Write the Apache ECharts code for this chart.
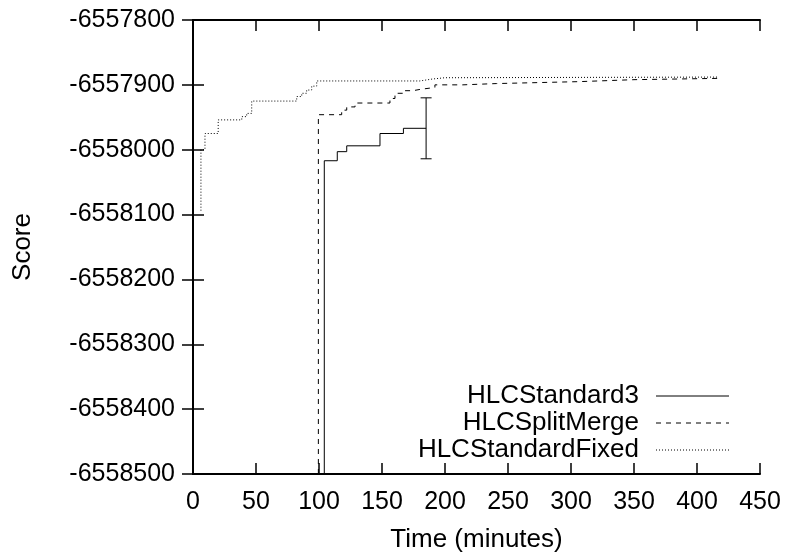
<!DOCTYPE html>
<html>
<head>
<meta charset="utf-8">
<script src="https://cdn.jsdelivr.net/npm/echarts@6/dist/echarts.min.js"></script>
<style>
  html, body { margin: 0; padding: 0; background: #fff; }
  #chart { width: 789px; height: 558px; }
</style>
</head>
<body>
<div id="chart"></div>
<script>
// time in minutes / score
const std3T = [104.2, 104.2, 114.5, 122, 148.4, 167, 185]
const std3V = [-6558500, -6558017, -6558003, -6557994, -6557975, -6557967, -6557967]

const splitT = [99.5, 99.5, 118, 122, 128.6, 156.3, 160.3, 166.7, 174.6, 180.2, 192, 214, 241, 307, 350, 417]
const splitV = [-6558500, -6557946, -6557939, -6557934, -6557928, -6557921, -6557913, -6557909, -6557907, -6557904, -6557900, -6557898, -6557895, -6557892, -6557890, -6557888]

const fixedT = [6.3, 6.3, 9.5, 20, 38.7, 42.6, 46.6, 82.3, 86.3, 90.2, 94.2, 98.2, 180, 190, 200, 417]
const fixedV = [-6558094, -6558000, -6557975, -6557954, -6557949, -6557944, -6557925, -6557918, -6557913, -6557908, -6557902, -6557894, -6557891, -6557889, -6557888, -6557888]

// error bar at the end of HLCStandard3
const errT = [185]
const errLow = [-6558014]
const errHigh = [-6557920]

const seriesNames = ['HLCStandard3', 'HLCSplitMerge', 'HLCStandardFixed']
const dashes = [null, [5, 5], [1, 2]]

const font = 'Liberation Sans, Arial, sans-serif'
const tickFs = 25
const textFs = 26

function pairs(xs, ys) {
  return xs.map((x, i) => [x, ys[i]])
}

const chart = echarts.init(document.getElementById('chart'))

const axisCommon = {
  type: 'value',
  axisLine: { show: true, lineStyle: { color: '#000', width: 2 } },
  axisTick: { show: true, inside: true, length: 11, lineStyle: { color: '#000', width: 1.5 } },
  splitLine: { show: false }
}

// legend drawn the gnuplot way: text right-aligned, sample to its right
const legendRows = [396, 423, 450]
const legendGraphics = []
seriesNames.forEach((name, i) => {
  legendGraphics.push({
    type: 'text',
    x: 639, y: legendRows[i],
    style: { text: name, font: textFs + 'px ' + font, fill: '#000', textAlign: 'right', textVerticalAlign: 'middle' }
  })
  legendGraphics.push({
    type: 'line',
    shape: { x1: 656, y1: legendRows[i], x2: 729, y2: legendRows[i] },
    style: { stroke: '#000', lineWidth: 1, lineDash: dashes[i] }
  })
})

const option = {
  animation: false,
  backgroundColor: '#fff',
  grid: { left: 193, top: 20, right: 29, bottom: 84, containLabel: false },
  xAxis: [
    Object.assign({}, axisCommon, {
      min: 0, max: 450, interval: 50,
      name: 'Time (minutes)', nameLocation: 'middle', nameGap: 53,
      nameTextStyle: { color: '#000', fontSize: textFs, fontFamily: font },
      axisLabel: { color: '#000', fontSize: tickFs, fontFamily: font, margin: 16 }
    }),
    Object.assign({}, axisCommon, {
      position: 'top', min: 0, max: 450, interval: 50,
      axisLabel: { show: false }
    })
  ],
  yAxis: [
    Object.assign({}, axisCommon, {
      min: -6558500, max: -6557800, interval: 100,
      name: 'Score', nameLocation: 'middle', nameGap: 157, nameRotate: 90,
      nameTextStyle: { color: '#000', fontSize: textFs, fontFamily: font },
      axisLabel: { color: '#000', fontSize: tickFs, fontFamily: font, margin: 18, formatter: v => String(v) }
    }),
    Object.assign({}, axisCommon, {
      position: 'right', min: -6558500, max: -6557800, interval: 100,
      axisLabel: { show: false }
    })
  ],
  graphic: legendGraphics,
  series: [
    {
      name: seriesNames[0], type: 'line', step: 'end', showSymbol: false, symbol: 'none',
      data: pairs(std3T, std3V),
      lineStyle: { color: '#000', width: 1 }
    },
    {
      name: seriesNames[1], type: 'line', step: 'end', showSymbol: false, symbol: 'none',
      data: pairs(splitT, splitV),
      lineStyle: { color: '#000', width: 1, type: dashes[1] }
    },
    {
      name: seriesNames[2], type: 'line', step: 'end', showSymbol: false, symbol: 'none',
      data: pairs(fixedT, fixedV),
      lineStyle: { color: '#000', width: 1, type: dashes[2] }
    },
    {
      name: 'errorbar', type: 'custom',
      data: errT.map((t, i) => [t, errLow[i], errHigh[i]]),
      renderItem: function (params, api) {
        const lo = api.coord([api.value(0), api.value(1)])
        const hi = api.coord([api.value(0), api.value(2)])
        const w = 5.5
        const st = { stroke: '#000', lineWidth: 1 }
        return {
          type: 'group',
          children: [
            { type: 'line', shape: { x1: hi[0], y1: hi[1], x2: lo[0], y2: lo[1] }, style: st },
            { type: 'line', shape: { x1: hi[0] - w, y1: hi[1], x2: hi[0] + w, y2: hi[1] }, style: st },
            { type: 'line', shape: { x1: lo[0] - w, y1: lo[1], x2: lo[0] + w, y2: lo[1] }, style: st }
          ]
        }
      }
    }
  ]
}

chart.setOption(option)
</script>
</body>
</html>
